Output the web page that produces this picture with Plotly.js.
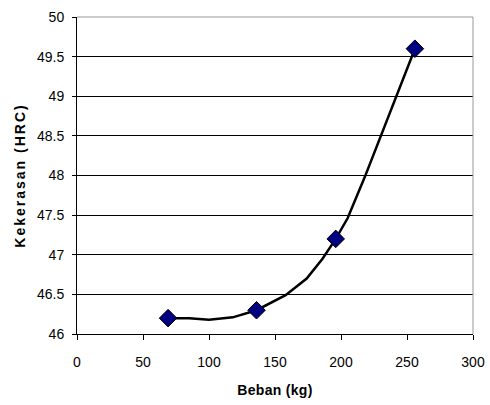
<!DOCTYPE html>
<html>
<head>
<meta charset="utf-8">
<script src="https://cdn.plot.ly/plotly-3.0.1.min.js"></script>
<style>
html,body{margin:0;padding:0;background:#fff;}
#chart{width:490px;height:405px;}
.g-ytitle text{letter-spacing:2px;}
.g-xtitle text{letter-spacing:0.3px;}
</style>
</head>
<body>
<div id="chart"></div>
<script>
// measured points (markers)
const bebanKg = [69, 136, 196, 256];
const kekerasanHRC = [46.2, 46.3, 47.2, 49.6];
// smoothed curve
const curveX = [69, 85, 100, 118, 136, 158, 174, 186, 196, 205, 218, 237, 256];
const curveY = [46.2, 46.2, 46.18, 46.21, 46.3, 46.49, 46.7, 46.95, 47.2, 47.46, 47.98, 48.8, 49.6];
const xTicks = [0, 50, 100, 150, 200, 250, 300];
const yTicks = [46, 46.5, 47, 47.5, 48, 48.5, 49, 49.5, 50];

const font = 'Liberation Sans, Arial, sans-serif';

const traces = [
  {x: curveX, y: curveY, mode: 'lines', type: 'scatter',
   line: {color: '#000', width: 2.5, shape: 'linear'}, hoverinfo: 'skip'},
  {x: bebanKg, y: kekerasanHRC, mode: 'markers', type: 'scatter',
   marker: {symbol: 'diamond', size: 13.5, color: '#000080', line: {color: '#000', width: 1}}}
];

const layout = {
  width: 490, height: 405,
  margin: {l: 77, r: 17, t: 17, b: 71},
  paper_bgcolor: '#fff', plot_bgcolor: '#fff',
  showlegend: false,
  font: {family: font, size: 14, color: '#000'},
  xaxis: {
    range: [0, 300], tickvals: xTicks, ticktext: xTicks.map(String),
    showgrid: false, zeroline: false,
    showline: true, linecolor: '#000', linewidth: 1,
    ticks: 'outside', ticklen: 5, tickcolor: '#000', tickwidth: 1,
    ticklabelstandoff: 10,
    tickfont: {family: font, size: 14, color: '#000'},
    title: {text: 'Beban (kg)', font: {family: font, size: 14, color: '#000', weight: 'bold'}, standoff: 16},
    automargin: false, fixedrange: true
  },
  yaxis: {
    range: [46, 50], tickvals: yTicks, ticktext: yTicks.map(String),
    showgrid: true, gridcolor: '#000', gridwidth: 1, zeroline: false,
    showline: true, linecolor: '#000', linewidth: 1,
    ticks: 'outside', ticklen: 4, tickcolor: '#000', tickwidth: 1,
    ticklabelstandoff: 5,
    tickfont: {family: font, size: 14, color: '#000'},
    title: {text: 'Kekerasan (HRC)', font: {family: font, size: 14, color: '#000', weight: 'bold'}, standoff: 8},
    automargin: false, fixedrange: true
  },
  shapes: [
    {type: 'line', xref: 'paper', yref: 'paper', x0: 0, x1: 1, y0: 1, y1: 1, line: {color: '#999', width: 1}},
    {type: 'line', xref: 'paper', yref: 'paper', x0: 1, x1: 1, y0: 0, y1: 1, line: {color: '#999', width: 1}}
  ]
};

Plotly.newPlot('chart', traces, layout, {displayModeBar: false, staticPlot: true});
</script>
</body>
</html>
